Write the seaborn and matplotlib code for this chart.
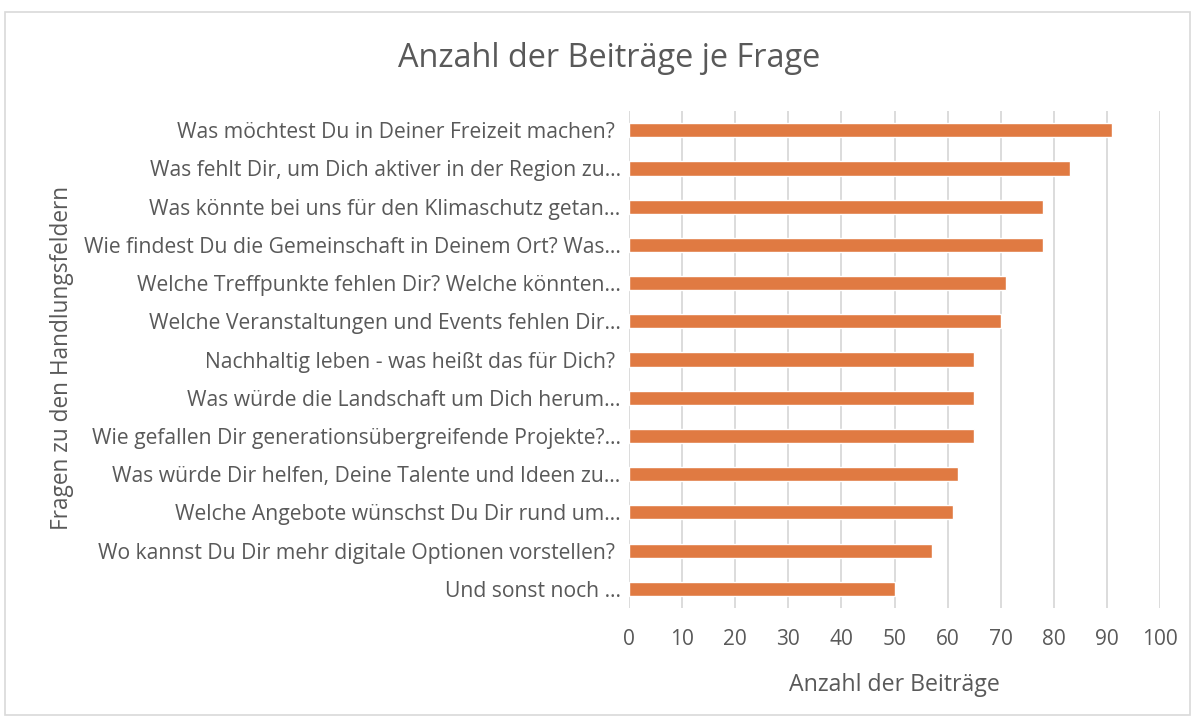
import matplotlib
matplotlib.use("Agg")
import matplotlib.pyplot as plt
import seaborn as sns
import pandas as pd
from matplotlib.patches import Rectangle

questions = [
    "Was möchtest Du in Deiner Freizeit machen? ",
    "Was fehlt Dir, um Dich aktiver in der Region zu…",
    "Was könnte bei uns für den Klimaschutz getan…",
    "Wie findest Du die Gemeinschaft in Deinem Ort? Was…",
    "Welche Treffpunkte fehlen Dir? Welche könnten…",
    "Welche Veranstaltungen und Events fehlen Dir…",
    "Nachhaltig leben - was heißt das für Dich? ",
    "Was würde die Landschaft um Dich herum…",
    "Wie gefallen Dir generationsübergreifende Projekte?…",
    "Was würde Dir helfen, Deine Talente und Ideen zu…",
    "Welche Angebote wünschst Du Dir rund um…",
    "Wo kannst Du Dir mehr digitale Optionen vorstellen? ",
    "Und sonst noch …",
]
counts = [91, 83, 78, 78, 71, 70, 65, 65, 65, 62, 61, 57, 50]
x_ticks = [0, 10, 20, 30, 40, 50, 60, 70, 80, 90, 100]

df = pd.DataFrame({"frage": questions, "anzahl": counts})

sns.set_style("white")
plt.rcParams["font.family"] = ["Open Sans", "DejaVu Sans"]
grey = "#595959"

fig = plt.figure(figsize=(11.95, 7.2), dpi=100)
ax = fig.add_axes([0.5264, 0.1556, 0.4443, 0.690])

sns.barplot(data=df, x="anzahl", y="frage", orient="h", color="#E07A42",
            saturation=1, width=0.37, ax=ax, zorder=3)

ax.set_xlim(0, 100)
ax.set_xticks(x_ticks)
ax.set_ylim(12.5, -0.5)
ax.grid(axis="x", color="#D9D9D9", linewidth=1.3, zorder=0)
ax.grid(axis="y", visible=False)
for s in ax.spines.values():
    s.set_visible(False)
ax.tick_params(axis="both", length=0, colors=grey)
ax.tick_params(axis="y", pad=6, labelsize=15.2)
ax.tick_params(axis="x", pad=15, labelsize=15)

ax.set_xlabel("")
ax.set_ylabel("")
fig.text(0.7485, 0.040, "Anzahl der Beiträge", ha="center", va="baseline",
         color=grey, fontsize=16.7)
fig.text(0.052, 0.503, "Fragen zu den Handlungsfeldern", rotation=90,
         ha="center", va="center", color=grey, fontsize=16.3)

fig.text(0.5096, 0.919, "Anzahl der Beiträge je Frage", ha="center",
         va="center", color=grey, fontsize=23.4)

fig.patches.append(Rectangle((0.004, 0.007), 0.992, 0.977,
                             transform=fig.transFigure, fill=False,
                             edgecolor="#D9D9D9", linewidth=1.2))

fig.savefig("out.png", dpi=100, facecolor="white")
